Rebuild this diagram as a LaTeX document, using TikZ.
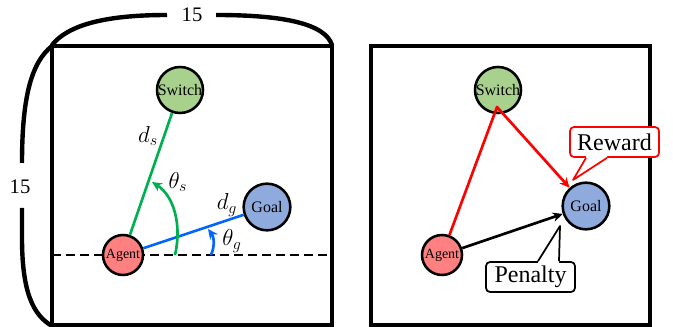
\documentclass[tikz,border=0pt]{standalone}
\usepackage{fontspec}
\setmainfont{Liberation Serif}
\usetikzlibrary{arrows.meta,calc}
\definecolor{switchfill}{HTML}{A9D18E}
\definecolor{goalfill}{HTML}{8FAADC}
\definecolor{agentfill}{HTML}{FF8080}
\definecolor{greenline}{HTML}{00B050}
\definecolor{blueline}{HTML}{0066FF}
\definecolor{redline}{HTML}{FF0000}
\tikzset{
  arena/.style={line width=3pt},
  brace/.style={line width=3.3pt},
  ent/.style={circle, draw, line width=1.9pt, inner sep=0pt, text=black},
  switchnode/.style={ent, fill=switchfill, minimum size=34.5pt, font=\fontsize{12}{12}\selectfont},
  goalnode/.style={ent, fill=goalfill, minimum size=35pt, font=\fontsize{12}{12}\selectfont},
  agentnode/.style={ent, fill=agentfill, minimum size=30pt, font=\fontsize{10.5}{10.5}\selectfont},
  horizon/.style={line width=1.9pt, dash pattern=on 6.75pt off 3.75pt},
  link/.style={line width=2pt},
  tip/.style={-{Stealth[length=7.5pt,width=7pt]}},
  mathlabel/.style={font=\fontsize{17}{17}\selectfont, inner sep=0pt},
  dimlabel/.style={font=\fontsize{15.5}{15.5}\selectfont, inner sep=0pt},
  calloutbox/.style={draw, fill=white, rounded corners=3pt, line width=1.3pt,
    minimum width=66.75pt, minimum height=22.5pt, inner sep=0pt,
    font=\fontsize{18}{18}\selectfont},
}
\begin{document}
\begin{tikzpicture}[x=0.75pt,y=-0.75pt]
\useasboundingbox (0,0) rectangle (673,327);

% ---------------- left panel: observation geometry ----------------
\draw[arena] (52,46) rectangle (332,325);

% size braces
\node[dimlabel] (toplen) at (192,15) {15};
\node[dimlabel] (sidelen) at (20,187) {15};
\draw[brace] (52,45) .. controls (68,25) and (105,15) .. (167,15);
\draw[brace] (216,15) .. controls (285,15) and (325,24) .. (332,45);
\draw[brace] (52,46) .. controls (32,62) and (22,95) .. (22,163);
\draw[brace] (22,208) -- (22,238) .. controls (22,292) and (33,315) .. (52,326);

% reference heading
\coordinate (hl) at (52,255);
\coordinate (hr) at (332,255);
\draw[horizon] (hl) -- (hr);

\node[switchnode] (switchL) at (180,90) {Switch};
\node[goalnode] (goalL) at (267,207) {Goal};
\node[agentnode] (agentL) at (123,255) {Agent};

\draw[link, greenline] (agentL) -- (switchL);
\draw[link, blueline] (agentL) -- (goalL);

% bearing angles
\coordinate (ths0) at (175,255);
\coordinate (ths1) at (152,182);
\draw[link, greenline, tip] (ths0) .. controls (182,225) and (174,196) .. (ths1);
\coordinate (thg0) at (211,255);
\coordinate (thg1) at (208,229);
\draw[link, blueline, tip] (thg0) .. controls (215,246) and (214,237) .. (thg1);

\node[mathlabel] (ds) at (148,136) {$d_s$};
\node[mathlabel] (ths) at (178,182) {$\theta_s$};
\node[mathlabel] (dg) at (227,205) {$d_g$};
\node[mathlabel] (thg) at (232,241) {$\theta_g$};

% ---------------- right panel: reward shaping ----------------
\draw[arena] (371,46) rectangle (650,325);

\node[switchnode] (switchR) at (498,90) {Switch};
\node[goalnode] (goalR) at (586,206) {Goal};
\node[agentnode] (agentR) at (442,255) {Agent};

\coordinate (kink) at (497,107);
\draw[link, redline, tip, line join=round] (agentR) -- (kink) -- (goalR);
\draw[link, black, tip] (agentR) -- (goalR);

% callouts
\node[calloutbox, draw=redline] (reward) at (614.5,142) {Reward};
\coordinate (rtip) at (573,180);
\fill[white] ($(reward.south)+(-28.5,-2)$) -- ($(reward.south)+(-28.5,0)$) -- (rtip)
  -- ($(reward.south)+(-7.5,0)$) -- ($(reward.south)+(-7.5,-2)$) -- cycle;
\draw[redline, line width=1.3pt, line join=round] ($(reward.south)+(-28.5,0)$) -- (rtip) -- ($(reward.south)+(-7.5,0)$);

\node[calloutbox] (penalty) at (530.5,277) {Penalty};
\coordinate (ptip) at (560,226);
\fill[white] ($(penalty.north)+(7.5,2)$) -- ($(penalty.north)+(7.5,0)$) -- (ptip)
  -- ($(penalty.north)+(28.5,0)$) -- ($(penalty.north)+(28.5,2)$) -- cycle;
\draw[black, line width=1.3pt, line join=round] ($(penalty.north)+(7.5,0)$) -- (ptip) -- ($(penalty.north)+(28.5,0)$);
\end{tikzpicture}
\end{document}
